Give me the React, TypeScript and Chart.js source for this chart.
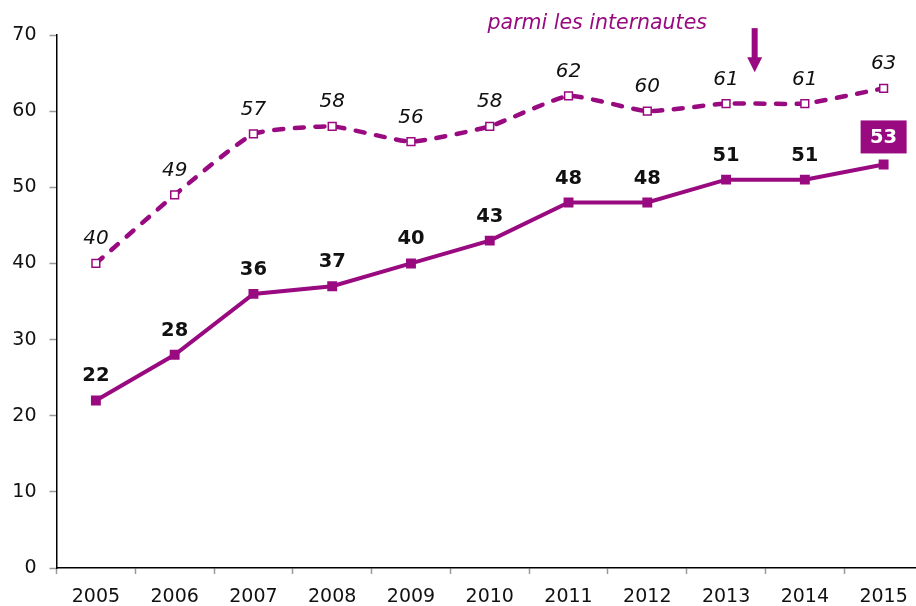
import React, { useEffect, useRef } from "react";
import { Chart, registerables } from "chart.js";

Chart.register(...registerables);

const years = ["2005", "2006", "2007", "2008", "2009", "2010", "2011", "2012", "2013", "2014", "2015"];
const ensemble = [22, 28, 36, 37, 40, 43, 48, 48, 51, 51, 53];
const internautes = [40, 49, 57, 58, 56, 58, 62, 60, 61, 61, 63];
const yTicks = [0, 10, 20, 30, 40, 50, 60, 70];
const noteText = "parmi les internautes";

const PURPLE = "#990a80";
const FONT = "'DejaVu Sans', Verdana, sans-serif";
const EXTRA_RIGHT = 7;

function extend(chart: any) {
  const xs = chart.scales.x;
  if (!xs) return;
  const r = chart.width + EXTRA_RIGHT;
  xs.right = r;
  xs.width = r - xs.left;
  chart.chartArea.right = r;
  chart.chartArea.width = r - chart.chartArea.left;
  xs.configure();
}

const extendPlugin = {
  id: "extendRight",
  afterLayout(chart: any) { extend(chart); },
  beforeDatasetsUpdate(chart: any) { extend(chart); },
};

const labelPlugin = {
  id: "valueLabels",
  afterDatasetsDraw(chart: any) {
    const ctx = chart.ctx;
    const xs = chart.scales.x;
    const ys = chart.scales.y;
    ctx.save();
    const m0 = chart.getDatasetMeta(0);
    ctx.font = `italic 20px ${FONT}`;
    ctx.fillStyle = "#111";
    ctx.textAlign = "center";
    ctx.textBaseline = "alphabetic";
    m0.data.forEach((pt: any, i: number) => {
      ctx.fillText(String(internautes[i]), pt.x, pt.y - 19);
    });
    const m1 = chart.getDatasetMeta(1);
    ctx.font = `bold 19.5px ${FONT}`;
    m1.data.forEach((pt: any, i: number) => {
      const last = i === ensemble.length - 1;
      if (last) {
        const w = 46, h = 33;
        ctx.fillStyle = PURPLE;
        ctx.fillRect(pt.x - w / 2, pt.y - 11 - h, w, h);
        ctx.fillStyle = "#fff";
        ctx.textBaseline = "middle";
        ctx.fillText(String(ensemble[i]), pt.x, pt.y - 11 - h / 2 + 1);
        ctx.textBaseline = "alphabetic";
      } else {
        ctx.fillStyle = "#111";
        ctx.fillText(String(ensemble[i]), pt.x, pt.y - 19);
      }
    });
    const step = xs.getPixelForValue(1) - xs.getPixelForValue(0);
    ctx.font = `italic 20.5px ${FONT}`;
    ctx.fillStyle = PURPLE;
    ctx.textAlign = "center";
    ctx.fillText(noteText, xs.getPixelForValue(6) + 0.365 * step, ys.getPixelForValue(70.8));
    const ax = xs.getPixelForValue(8) + 0.363 * step;
    const yTop = ys.getPixelForValue(70.9);
    const yTip = ys.getPixelForValue(65.1);
    const headH = 15;
    ctx.fillRect(ax - 3, yTop, 6, yTip - yTop - headH + 1);
    ctx.beginPath();
    ctx.moveTo(ax - 7.5, yTip - headH);
    ctx.lineTo(ax + 7.5, yTip - headH);
    ctx.lineTo(ax, yTip);
    ctx.closePath();
    ctx.fill();
    ctx.restore();
  },
};

export default function App() {
  const ref = useRef<HTMLCanvasElement>(null);
  useEffect(() => {
    if (!ref.current) return;
    const chart = new Chart(ref.current, {
      type: "line",
      data: {
        labels: years,
        datasets: [
          {
            label: "parmi les internautes",
            data: internautes,
            borderColor: PURPLE,
            borderWidth: 4.5,
            borderDash: [9, 11.5],
            borderCapStyle: "round",
            tension: 0.15,
            pointStyle: "rect",
            pointRadius: 5.5,
            pointBorderWidth: 1.5,
            pointBorderColor: PURPLE,
            pointBackgroundColor: "#fff",
          },
          {
            label: "ensemble",
            data: ensemble,
            borderColor: PURPLE,
            borderWidth: 4,
            tension: 0,
            pointStyle: "rect",
            pointRadius: 7,
            pointBorderWidth: 0,
            pointBackgroundColor: PURPLE,
          },
        ],
      },
      options: {
        animation: false,
        responsive: false,
        layout: { padding: { left: 0, right: 0, top: 35, bottom: 0 } },
        plugins: { legend: { display: false }, tooltip: { enabled: false } },
        scales: {
          x: {
            type: "category",
            offset: true,
            grid: { offset: true, drawOnChartArea: false, tickLength: 6, tickColor: "#999", tickWidth: 1.5 },
            border: { color: "#000", width: 1.5 },
            ticks: { color: "#111", font: { family: FONT, size: 19 }, padding: 12, maxRotation: 0 },
            afterFit: (s: any) => { s.height = 38; },
          },
          y: {
            min: 0,
            max: 70,
            afterBuildTicks: (s: any) => { s.ticks = yTicks.map((v) => ({ value: v })); },
            grid: { drawOnChartArea: false, tickLength: 7, tickColor: "#999", tickWidth: 1.5 },
            border: { color: "#000", width: 1.5 },
            ticks: { color: "#111", font: { family: FONT, size: 19 }, padding: 13 },
            afterFit: (s: any) => { s.width = 56.5; },
          },
        },
      },
      plugins: [extendPlugin, labelPlugin],
    });
    return () => chart.destroy();
  }, []);
  return (
    <div style={{ position: "fixed", left: 0, top: 0, width: 916, height: 606, overflow: "hidden", background: "#fff" }}>
      <canvas ref={ref} width={916} height={606} style={{ display: "block" }} />
    </div>
  );
}
